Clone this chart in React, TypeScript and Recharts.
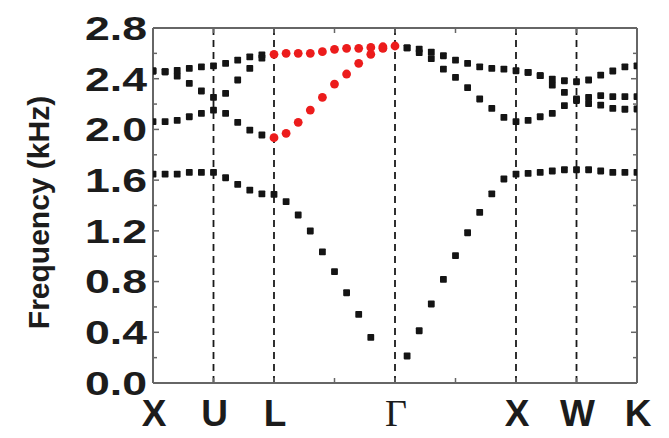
import React from 'react';
import { ScatterChart, Scatter, XAxis, YAxis, ReferenceLine } from 'recharts';

// High-symmetry path (x in path units; grid step 0.2)
const symLabels = ['X', 'U', 'L', 'Γ', 'X', 'W', 'K'];
const symPositions = [0, 1, 2, 4, 6, 7, 8];
const dashedAt = [1, 2, 4, 6, 7];
const xTickMarks = [1, 2, 3, 4, 5, 6, 7];
const xAllTicks = [0, 1, 2, 3, 4, 5, 6, 7, 8];
const yMajorTicks = [0, 0.4, 0.8, 1.2, 1.6, 2.0, 2.4, 2.8];
const yAllTicks = [0, 0.2, 0.4, 0.6, 0.8, 1.0, 1.2, 1.4, 1.6, 1.8, 2.0, 2.2, 2.4, 2.6, 2.8];
const STEP = 0.2;

// Black bands (start index on the 0.2 grid, then values in kHz)
const acousticXL = [1.648, 1.648, 1.648, 1.662, 1.662, 1.662, 1.619, 1.567, 1.522, 1.491, 1.488]; // k0..10
const acousticLG = [1.43, 1.325, 1.199, 1.035, 0.878, 0.712, 0.542, 0.36]; // k11..18
const acousticGX = [0.213, 0.412, 0.623, 0.818, 1.004, 1.185, 1.346, 1.491, 1.609, 1.648]; // k21..30
const acousticXK = [1.654, 1.662, 1.672, 1.682, 1.682, 1.682, 1.672, 1.662, 1.662, 1.662]; // k31..40

const topXL = [2.461, 2.455, 2.465, 2.482, 2.494, 2.502, 2.521, 2.547, 2.573, 2.587]; // k0..9
const midXL = [2.461, 2.455, 2.421, 2.364, 2.303, 2.253, 2.285, 2.39, 2.482, 2.563]; // k0..9
const lowXL = [2.061, 2.061, 2.072, 2.1, 2.127, 2.153, 2.127, 2.056, 1.995, 1.956]; // k0..9

const blackNearGamma = [2.642]; // k19

const upperGX = [2.644, 2.634, 2.61, 2.581, 2.547, 2.521, 2.494, 2.482, 2.476, 2.463]; // k21..30
const lowerGX = [2.644, 2.606, 2.559, 2.476, 2.411, 2.329, 2.24, 2.166, 2.095, 2.061]; // k21..30

const bandAXK = [2.45, 2.424, 2.397, 2.384, 2.376, 2.39, 2.429, 2.461, 2.494, 2.502]; // k31..40
const bandBXK = [2.45, 2.424, 2.35, 2.293, 2.24, 2.252, 2.266, 2.258, 2.258, 2.258]; // k31..40
const bandCXK = [2.072, 2.1, 2.127, 2.187, 2.228, 2.204, 2.192, 2.166, 2.159, 2.161]; // k31..40

// Red bands (L -> Γ)
const redUpperLG = [2.592, 2.6, 2.6, 2.6, 2.613, 2.632, 2.64, 2.64, 2.647, 2.652, 2.658]; // k10..20
const redLowerLG = [1.935, 1.969, 2.056, 2.153, 2.253, 2.358, 2.437, 2.521, 2.592, 2.64]; // k10..19

const toPoints = (start: number, values: number[]) =>
  values.map((v, i) => ({ x: Math.round((start + i) * STEP * 100) / 100, y: v }));

const blackData = [
  ...toPoints(0, acousticXL),
  ...toPoints(11, acousticLG),
  ...toPoints(21, acousticGX),
  ...toPoints(31, acousticXK),
  ...toPoints(0, topXL),
  ...toPoints(0, midXL),
  ...toPoints(0, lowXL),
  ...toPoints(19, blackNearGamma),
  ...toPoints(21, upperGX),
  ...toPoints(21, lowerGX),
  ...toPoints(31, bandAXK),
  ...toPoints(31, bandBXK),
  ...toPoints(31, bandCXK),
];
const redData = [...toPoints(10, redUpperLG), ...toPoints(10, redLowerLG)];

const AXIS = '#666';
const TEXT = '#1c1c1c';

const BlackSquare = (p: any) => (
  <rect x={p.cx - 3.4} y={p.cy - 3.4} width={6.8} height={6.8} rx={0.8} fill="#141414" />
);
const RedDot = (p: any) => <circle cx={p.cx} cy={p.cy} r={4.4} fill="#ec1c1c" />;

const isMajor = (v: number) => yMajorTicks.some((t) => Math.abs(t - v) < 1e-6);

const LeftTick = (props: any) => {
  const { x, y, payload } = props;
  const v = payload.value as number;
  return (
    <g>
      <line x1={x} x2={x + (isMajor(v) ? 6 : 4)} y1={y} y2={y} stroke={AXIS} strokeWidth={1.5} />
      {isMajor(v) && (
        <text
          x={x - 6}
          y={y}
          dy="0.36em"
          textAnchor="end"
          textLength={62}
          lengthAdjust="spacingAndGlyphs"
          fontFamily="Liberation Sans, Arial, sans-serif"
          fontWeight="bold"
          fontSize={33}
          fill={TEXT}
        >
          {v.toFixed(1)}
        </text>
      )}
    </g>
  );
};

const RightTick = (props: any) => {
  const { x, y, payload } = props;
  const v = payload.value as number;
  return <line x1={x} x2={x - (isMajor(v) ? 6 : 4)} y1={y} y2={y} stroke={AXIS} strokeWidth={1.5} />;
};

const BottomTick = (props: any) => {
  const { x, y, payload } = props;
  const v = payload.value as number;
  const idx = symPositions.indexOf(v);
  const label = idx >= 0 ? symLabels[idx] : null;
  const isGamma = label === 'Γ';
  return (
    <g>
      {xTickMarks.includes(v) && <line x1={x} x2={x} y1={y} y2={y - 5} stroke={AXIS} strokeWidth={1.5} />}
      {label && (
        <text
          x={x + 1}
          y={y + 43}
          textAnchor="middle"
          fontFamily={isGamma ? 'Liberation Serif, Times New Roman, serif' : 'Liberation Sans, Arial, sans-serif'}
          fontWeight={isGamma ? 'normal' : 'bold'}
          fontSize={isGamma ? 38 : 37}
          fill={TEXT}
        >
          {label}
        </text>
      )}
    </g>
  );
};

const TopTick = (props: any) => {
  const { x, y } = props;
  return <line x1={x} x2={x} y1={y} y2={y + 5} stroke={AXIS} strokeWidth={1.5} />;
};

const YLabel = (props: any) => {
  const vb = props.viewBox || { x: 0, y: 28, width: 153, height: 355 };
  const cx = vb.x + 38;
  const cy = vb.y + vb.height / 2 + 7;
  return (
    <text
      x={cx}
      y={cy}
      transform={`rotate(-90 ${cx} ${cy})`}
      textAnchor="middle"
      dominantBaseline="central"
      fontFamily="Liberation Sans, Arial, sans-serif"
      fontWeight="bold"
      fontSize={30}
      fill={TEXT}
    >
      Frequency (kHz)
    </text>
  );
};

export default function App() {
  return (
    <div style={{ position: 'absolute', left: 0, top: 0, width: 669, height: 438, background: '#fff' }}>
      <ScatterChart width={669} height={438} margin={{ top: 0, right: 2, bottom: 0, left: 0 }}>
        <XAxis
          xAxisId="b"
          type="number"
          dataKey="x"
          domain={[0, 8]}
          ticks={xAllTicks}
          interval={0}
          tickSize={0}
          tickMargin={0}
          height={55}
          axisLine={{ stroke: AXIS, strokeWidth: 2 }}
          tickLine={false}
          tick={<BottomTick />}
          allowDataOverflow
        />
        <XAxis
          xAxisId="t"
          orientation="top"
          type="number"
          dataKey="x"
          domain={[0, 8]}
          ticks={xTickMarks}
          interval={0}
          tickSize={0}
          tickMargin={0}
          height={28}
          axisLine={{ stroke: AXIS, strokeWidth: 2 }}
          tickLine={false}
          tick={<TopTick />}
          allowDataOverflow
        />
        <YAxis
          yAxisId="l"
          type="number"
          dataKey="y"
          domain={[0, 2.8]}
          ticks={yAllTicks}
          interval={0}
          tickSize={0}
          tickMargin={0}
          width={153}
          axisLine={{ stroke: AXIS, strokeWidth: 2 }}
          tickLine={false}
          tick={<LeftTick />}
          label={<YLabel />}
          allowDataOverflow
        />
        <YAxis
          yAxisId="r"
          orientation="right"
          type="number"
          dataKey="y"
          domain={[0, 2.8]}
          ticks={yAllTicks}
          interval={0}
          tickSize={0}
          tickMargin={0}
          width={30}
          axisLine={{ stroke: AXIS, strokeWidth: 2 }}
          tickLine={false}
          tick={<RightTick />}
          allowDataOverflow
        />
        {dashedAt.map((p) => (
          <ReferenceLine
            key={p}
            x={p}
            xAxisId="b"
            yAxisId="l"
            stroke="#1a1a1a"
            strokeWidth={1.8}
            strokeDasharray="7 5"
          />
        ))}
        <Scatter
          data={blackData}
          xAxisId="b"
          yAxisId="l"
          shape={BlackSquare}
          isAnimationActive={false}
        />
        <Scatter
          data={redData}
          xAxisId="b"
          yAxisId="l"
          shape={RedDot}
          isAnimationActive={false}
        />
      </ScatterChart>
    </div>
  );
}
